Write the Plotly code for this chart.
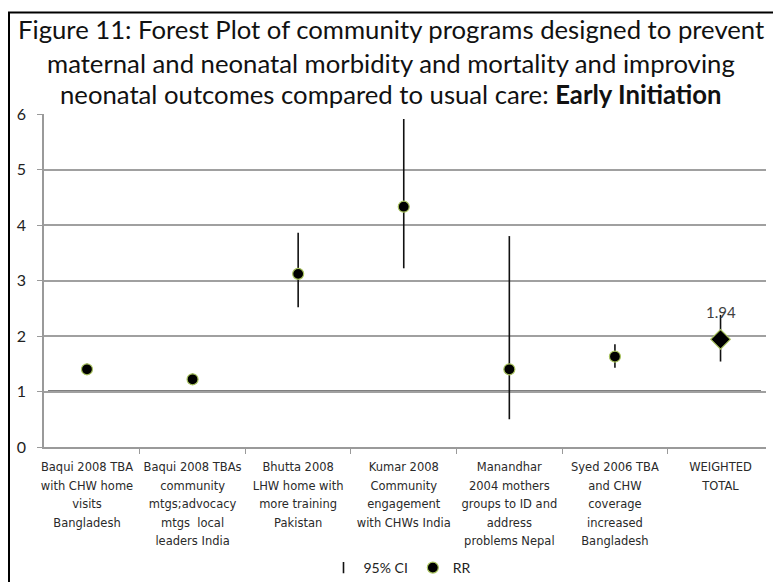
import plotly.graph_objects as go

# ---------------- data ----------------
tick_lines = [
    ["Baqui 2008 TBA", "with CHW home", "visits", "Bangladesh"],
    ["Baqui 2008 TBAs", "community", "mtgs;advocacy", "mtgs  local", "leaders India"],
    ["Bhutta 2008", "LHW home with", "more training", "Pakistan"],
    ["Kumar 2008", "Community", "engagement", "with CHWs India"],
    ["Manandhar", "2004 mothers", "groups to ID and", "address", "problems Nepal"],
    ["Syed 2006 TBA", "and CHW", "coverage", "increased", "Bangladesh"],
    ["WEIGHTED", "TOTAL"],
]
categories = [" ".join(l) for l in tick_lines]
rr = [1.40, 1.22, 3.12, 4.33, 1.40, 1.63, 1.94]
ci_lower = [1.40, 1.22, 2.52, 3.22, 0.50, 1.43, 1.54]
ci_upper = [1.40, 1.22, 3.86, 5.91, 3.80, 1.85, 2.38]
ref_value = 1
y_ticks = [0, 1, 2, 3, 4, 5, 6]
title_lines = [
    "Figure 11: Forest Plot of community programs designed to prevent",
    "maternal and neonatal morbidity and mortality and improving",
    "neonatal outcomes compared to usual care: <b>Early Initiation</b>",
]

# ---------------- layout helpers ----------------
W, H = 773, 582
L, R, T, B = 44, 7, 114, 135
PW, PH = W - L - R, H - T - B


def px(x):
    return (x - L) / PW


def py(y):
    return (H - B - y) / PH


FONT = "Lato, 'Open Sans', sans-serif"
TICKFONT = "'DejaVu Sans', Verdana, sans-serif"
OUTLINE = "#a9c35f"

ticktext = [
    "<br>".join(f"<span style='font-size:11.5px'>{s}</span>" for s in lines)
    for lines in tick_lines
]

fig = go.Figure()

# 95% CI
fig.add_trace(go.Scatter(
    x=categories, y=rr, mode="markers", name="95% CI",
    marker=dict(symbol="line-ns", size=8, color="#111",
                line=dict(color="#111", width=1.6)),
    error_y=dict(type="data", symmetric=False,
                 array=[u - r for u, r in zip(ci_upper, rr)],
                 arrayminus=[r - lo for r, lo in zip(rr, ci_lower)],
                 color="#111", thickness=1.6, width=0),
    hoverinfo="skip",
))

# RR points (studies)
fig.add_trace(go.Scatter(
    x=categories[:-1], y=rr[:-1], mode="markers", name="RR",
    marker=dict(symbol="circle", size=11, color="#000",
                line=dict(color=OUTLINE, width=1.2)),
))

# Weighted total
fig.add_trace(go.Scatter(
    x=categories[-1:], y=rr[-1:], mode="markers", showlegend=False,
    marker=dict(symbol="diamond", size=15, color="#000",
                line=dict(color=OUTLINE, width=1.2)),
))

annotations = [dict(
    text=f"{rr[-1]:.2f}", xref="x", yref="y", x=categories[-1], y=rr[-1],
    yshift=27, showarrow=False, xanchor="center", yanchor="middle",
    font=dict(family=FONT, size=15, color="#404040"),
)]
title_y = [29, 62.5, 94.5]
for t, yy in zip(title_lines, title_y):
    annotations.append(dict(
        text=t, xref="paper", yref="paper", x=px(391), y=py(yy),
        xanchor="center", yanchor="middle", showarrow=False,
        font=dict(family=FONT, size=25.7, color="#111"),
    ))

shapes = [
    # reference line
    dict(type="line", xref="paper", yref="y", x0=px(48), x1=px(761),
         y0=ref_value, y1=ref_value, line=dict(color="#000", width=2.2),
         layer="between"),
    # outer border
    dict(type="rect", xref="paper", yref="paper", x0=px(9), x1=px(790),
         y0=py(600), y1=py(12.5), line=dict(color="#000", width=2),
         fillcolor="rgba(0,0,0,0)"),
]

fig.update_layout(
    width=W, height=H,
    margin=dict(l=L, r=R, t=T, b=B, pad=0, autoexpand=False),
    paper_bgcolor="white", plot_bgcolor="white",
    font=dict(family=FONT, color="#222"),
    showlegend=True,
    legend=dict(orientation="h", xref="container", yref="container",
                x=400 / W, xanchor="center",
                y=(H - 568) / H, yanchor="middle",
                font=dict(family=FONT, size=14, color="#222"),
                bgcolor="rgba(0,0,0,0)", itemsizing="trace"),
    annotations=annotations, shapes=shapes,
    xaxis=dict(
        type="category", categoryorder="array", categoryarray=categories,
        tickmode="array", tickvals=categories, ticktext=ticktext,
        tickson="boundaries", ticks="outside", ticklen=5, tickcolor="#9a9a9a",
        tickwidth=1.3,
        tickfont=dict(family=TICKFONT, size=14.3, color="#2a2a2a"),
        showline=True, linecolor="#9a9a9a", linewidth=1.5,
        showgrid=False, zeroline=False, tickangle=0, automargin=False,
        ticklabelstandoff=5,
    ),
    yaxis=dict(
        range=[0, 6], tickmode="array", tickvals=y_ticks,
        ticks="outside", ticklen=5, tickcolor="#9a9a9a", tickwidth=1.3,
        tickfont=dict(family=FONT, size=16, color="#222"),
        showline=True, linecolor="#9a9a9a", linewidth=1.5,
        showgrid=True, gridcolor="#a0a0a0", gridwidth=1.5,
        zeroline=False, ticklabelstandoff=8, automargin=False,
    ),
)

fig.write_html("out.html",
               config={"displayModeBar": False},
               post_script="document.body.style.margin='0';")
